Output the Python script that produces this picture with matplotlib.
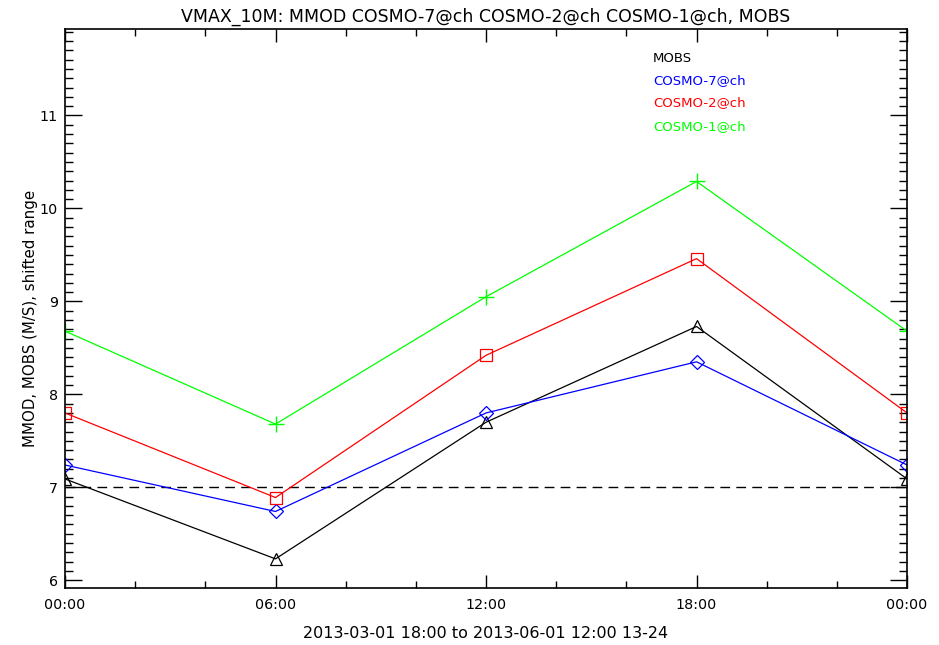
import numpy as np
import matplotlib
matplotlib.use("Agg")
import matplotlib.pyplot as plt
from matplotlib.ticker import MultipleLocator, FixedLocator

# hours of day
hours = [0, 6, 12, 18, 24]
hour_labels = ['00:00', '06:00', '12:00', '18:00', '00:00']

mobs = [7.09, 6.23, 7.70, 8.73, 7.09]
cosmo7 = [7.24, 6.74, 7.80, 8.35, 7.24]
cosmo2 = [7.80, 6.89, 8.42, 9.46, 7.80]
cosmo1 = [8.68, 7.68, 9.05, 10.29, 8.68]

ref_level = 7.0

fig = plt.figure(figsize=(9.39, 6.45), dpi=100)
ax = fig.add_axes([0.0692, 0.0884, 0.8968, 0.8666])

ax.axhline(ref_level, color='black', lw=1.0, ls=(0, (7, 4.5)))

ax.plot(hours, mobs, color='black', lw=0.9, marker='^', ms=9, mfc='none', mec='black', mew=0.9)
ax.plot(hours, cosmo7, color='blue', lw=0.9, marker='D', ms=7, mfc='none', mec='blue', mew=0.9)
ax.plot(hours, cosmo2, color='red', lw=0.9, marker='s', ms=9, mfc='none', mec='red', mew=0.9)
ax.plot(hours, cosmo1, color='#00ff00', lw=0.9, marker='+', ms=11, mec='#00ff00', mew=1.0)

ax.set_xlim(0, 24)
ax.set_ylim(5.917, 11.93)

ax.xaxis.set_major_locator(FixedLocator(hours))
ax.set_xticklabels(hour_labels)
ax.xaxis.set_minor_locator(MultipleLocator(2))
ax.yaxis.set_major_locator(MultipleLocator(1))
ax.yaxis.set_minor_locator(MultipleLocator(0.1))

ax.tick_params(which='both', direction='in', top=True, right=True, width=1.0, labelsize=10.3)
ax.tick_params(axis='x', which='major', length=9.5, pad=7)
ax.tick_params(axis='x', which='minor', length=4.7)
ax.tick_params(axis='y', which='major', length=12, pad=5)
ax.tick_params(axis='y', which='minor', length=5.8)
for s in ax.spines.values():
    s.set_linewidth(1.2)

ax.set_title('VMAX_10M: MMOD COSMO-7@ch COSMO-2@ch COSMO-1@ch, MOBS', fontsize=12.5, pad=5)
ax.set_xlabel('2013-03-01 18:00 to 2013-06-01 12:00 13-24', fontsize=11.5, labelpad=10)
ax.set_ylabel('MMOD, MOBS (M/S), shifted range', fontsize=10.8)
ax.yaxis.set_label_coords(-0.032, 0.483)

# legend as coloured text lines
names = ['MOBS', 'COSMO-7@ch', 'COSMO-2@ch', 'COSMO-1@ch']
cols = ['black', 'blue', 'red', '#00ff00']
ypos = [0.948, 0.907, 0.868, 0.826]
for n, c, yy in zip(names, cols, ypos):
    ax.text(0.698, yy, n, color=c, fontsize=9.5, transform=ax.transAxes, va='center')

fig.savefig('out.png', dpi=100)
